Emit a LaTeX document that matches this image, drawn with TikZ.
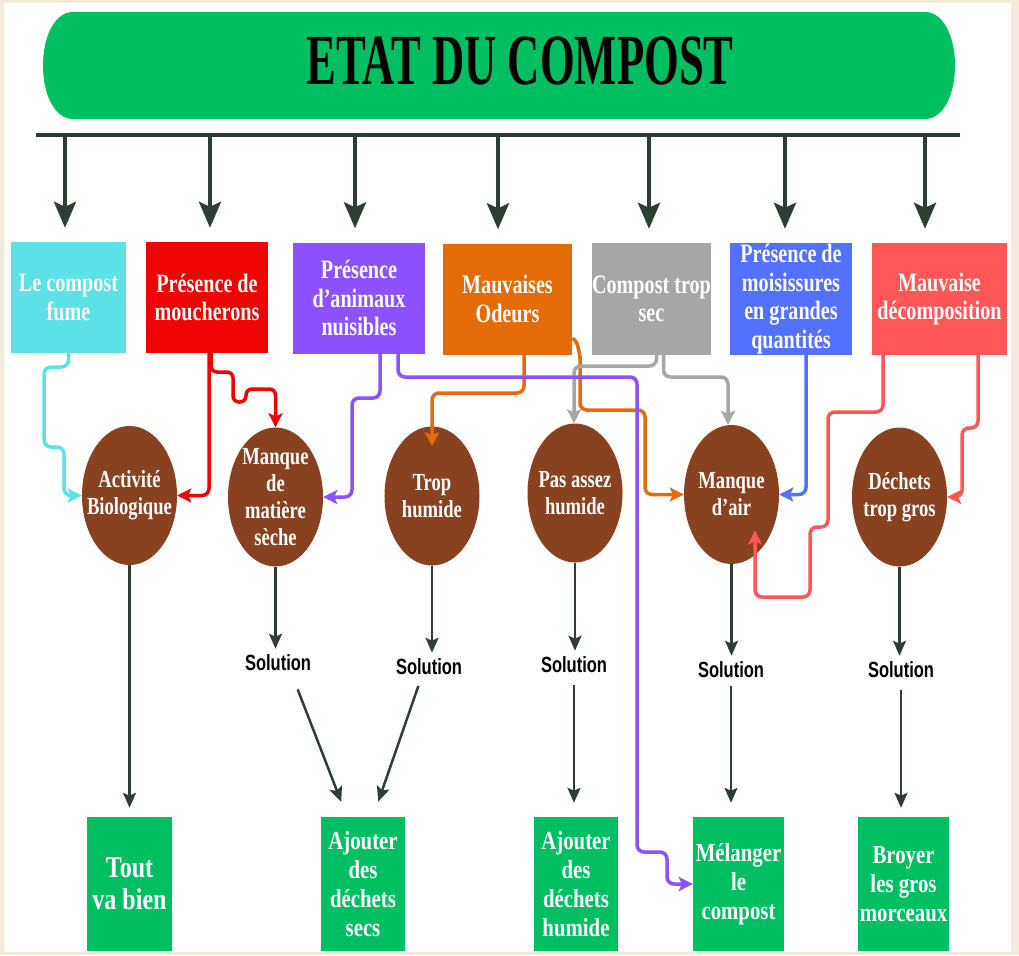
\documentclass[tikz,border=0pt]{standalone}
\usepackage{fontspec}
\setmainfont{Liberation Serif}
\newfontfamily\condfont[FakeStretch=0.76]{Liberation Serif}
\newfontfamily\remfont[FakeStretch=0.8]{Liberation Serif}
\newfontfamily\titlefont[FakeStretch=0.62]{Liberation Serif}
\newfontfamily\solfont[FakeStretch=0.75]{Liberation Sans}
\usetikzlibrary{shapes.geometric,arrows.meta}

\definecolor{compgreen}{RGB}{0,191,99}
\definecolor{darkline}{RGB}{45,62,50}
\definecolor{brun}{RGB}{137,66,31}
\definecolor{cyanbox}{RGB}{92,225,230}
\definecolor{redbox}{RGB}{240,3,3}
\definecolor{purplebox}{RGB}{140,82,255}
\definecolor{orangebox}{RGB}{227,108,9}
\definecolor{graybox}{RGB}{166,166,166}
\definecolor{bluebox}{RGB}{82,113,255}
\definecolor{salmonbox}{RGB}{255,87,87}
\definecolor{beige}{RGB}{244,234,218}

\begin{document}
\begin{tikzpicture}[x=1pt,y=-1pt,
    etat/.style={rectangle, minimum height=111pt, inner sep=0pt, text=white,
        align=center, font=\condfont\bfseries\fontsize{26.5}{28.5}\selectfont},
    cause/.style={ellipse, fill=brun, minimum width=95pt, minimum height=139pt,
        inner xsep=-20pt, inner ysep=-5pt, text=white, align=center,
        font=\condfont\bfseries\fontsize{24.5}{27}\selectfont},
    remede/.style={rectangle, fill=compgreen, minimum height=134pt, inner sep=0pt,
        text=white, align=center, font=\remfont\bfseries\fontsize{26}{29}\selectfont},
    sol/.style={font=\solfont\bfseries\fontsize{22}{22}\selectfont, inner sep=6pt},
    toparrow/.style={darkline, line width=4pt, -{Stealth[length=26pt,width=22pt,inset=5pt]}},
    downarrow/.style={darkline, line width=2.5pt, -{Stealth[length=15pt,width=13pt,inset=3pt]}},
    link/.style={line width=3.5pt, rounded corners=7pt, -{Stealth[length=14pt,width=14pt,inset=3pt]}}]

    \useasboundingbox (0,0) rectangle (1019,955);
    \fill[beige] (0,0) rectangle (1019,955);       % page border
    \fill[white] (4,3) rectangle (1011,952);

    % title banner
    \fill[compgreen] (73,12) -- (925,12) .. controls (943,12) and (955,36) .. (955,65.5)
        .. controls (955,95) and (943,119) .. (925,119) -- (73,119)
        .. controls (55,119) and (43,95) .. (43,65.5)
        .. controls (43,36) and (55,12) .. (73,12) -- cycle;
    \node[font=\titlefont\bfseries\fontsize{72}{72}\selectfont] (titre) at (520,61) {ETAT DU COMPOST};

    \coordinate (barL) at (36,135);
    \coordinate (barR) at (960,135);
    \draw[darkline, line width=4pt] (barL) -- (barR);   % distribution bar

    % etats
    \node[etat, fill=cyanbox, minimum width=115pt] (fume) at (68.5,297.5) {Le compost\\fume};
    \node[etat, fill=redbox, minimum width=122pt] (mouch) at (207,297.5) {Présence de\\moucherons};
    \node[etat, fill=purplebox, minimum width=132pt] (anim) at (359,298) {Présence\\d’animaux\\nuisibles};
    \node[etat, fill=orangebox, minimum width=129pt] (odeurs) at (507.5,299) {Mauvaises\\Odeurs};
    \node[etat, fill=graybox, minimum width=119pt, minimum height=112pt] (sec) at (651.5,299) {Compost trop\\sec};
    \node[etat, fill=bluebox, minimum width=122pt, minimum height=112pt] (mois) at (791,299) {Présence de\\moisissures\\en grandes\\quantités};
    \node[etat, fill=salmonbox, minimum width=135pt, minimum height=112pt] (deco) at (939.5,299) {Mauvaise\\décomposition};

    \foreach \x/\b [count=\i] in {65/fume,210/mouch,355/anim,498/odeurs,649/sec,785/mois,925/deco}{
        \coordinate (t\i) at (\x,135);
        \draw[toparrow, shorten >=14pt] (t\i) -- (t\i |- \b.north);
    }

    % causes
    \node[cause] (bio) at (129.5,495.5) {Activité\\Biologique};
    \node[cause] (seche) at (275.5,497) {Manque\\de\\matière\\sèche};
    \node[cause] (trop) at (432,496) {Trop\\humide};
    \node[cause] (pas) at (575,493) {Pas assez\\humide};
    \node[cause] (air) at (731.5,494.5) {Manque\\d’air};
    \node[cause] (gros) at (899.5,497) {Déchets\\trop gros};

    % solutions
    \node[sol] (s1) at (278,663) {Solution};
    \node[sol] (s2) at (429,667) {Solution};
    \node[sol] (s3) at (574,665) {Solution};
    \node[sol] (s4) at (731,670) {Solution};
    \node[sol] (s5) at (901,670) {Solution};

    % remedes
    \node[remede, minimum width=85pt, font=\remfont\bfseries\fontsize{30}{32}\selectfont] (tout) at (129.5,884) {Tout\\va bien};
    \node[remede, minimum width=84pt] (secs) at (363,884) {Ajouter\\des\\déchets\\secs};
    \node[remede, minimum width=84pt] (humide) at (576,884) {Ajouter\\des\\déchets\\humide};
    \node[remede, minimum width=91pt] (melange) at (738.5,884) {Mélanger\\le\\compost};
    \node[remede, minimum width=91pt] (broyer) at (903.5,884) {Broyer\\les gros\\morceaux};

    \draw[downarrow, shorten >=9pt] (bio) -- (tout);
    \draw[downarrow] (seche.south) -- (seche.south |- s1.north);
    \draw[downarrow] (trop.south) -- (trop.south |- s2.north);
    \draw[downarrow] (pas.south) -- (pas.south |- s3.north);
    \draw[downarrow] (air.south) -- (air.south |- s4.north);
    \draw[downarrow] (gros.south) -- (gros.south |- s5.north);
    \draw[downarrow, shorten <=13pt, shorten >=16pt] ([xshift=15pt]s1.south) -- ([xshift=-16pt]secs.north);
    \draw[downarrow, shorten <=5pt, shorten >=16pt] ([xshift=-9pt]s2.south) -- ([xshift=10pt]secs.north);
    \draw[downarrow, shorten <=6pt, shorten >=14pt] (s3.south) -- (s3.south |- humide.north);
    \draw[downarrow, shorten <=2pt, shorten >=14pt] (s4.south) -- (s4.south |- melange.north);
    \draw[downarrow, shorten <=6pt, shorten >=9pt] (s5.south) -- (s5.south |- broyer.north);

    % liens colores
    \draw[link, cyanbox] (fume.south) |- (44,367) -- (44,447) -- (64,447) |- (bio.west);
    \draw[link, redbox] ([xshift=2pt]mouch.south) |- (bio.east);
    \draw[link, redbox, rounded corners=6pt] ([xshift=4pt]mouch.south) |- (233,372) |- (246,402)
        |- (275.5,389) -- (seche.north);
    \draw[link, orangebox] ([xshift=16.5pt]odeurs.south) |- (432,393) -- ([yshift=-20pt]trop.north);
    \draw[link, orangebox] ([yshift=16pt]odeurs.south east) to[out=0,in=270] (580,352)
        |- (645,410) |- (air.west);
    \draw[link, graybox] ([xshift=5pt]sec.south) |- (574,366) -- ([xshift=-1pt]pas.north);
    \draw[link, graybox] ([xshift=12pt]sec.south) |- (728,377) -- ([xshift=-3.5pt]air.north);
    \draw[link, purplebox] ([xshift=21pt]anim.south) |- (352,398) |- (seche.east);
    \draw[link, purplebox] ([xshift=39pt]anim.south) |- (637,377) |- (667,852) |- (melange.west);
    \draw[link, bluebox] ([xshift=15pt]mois.south) |- (air.east);
    \draw[link, salmonbox] ([xshift=-56.5pt]deco.south) |- (828,412) |- (810,527) |- (755,597)
        -- ([xshift=23.5pt,yshift=-36pt]air.center);
    \draw[link, salmonbox] ([xshift=38.5pt]deco.south) |- (962,428) |- (gros.east);
\end{tikzpicture}
\end{document}
